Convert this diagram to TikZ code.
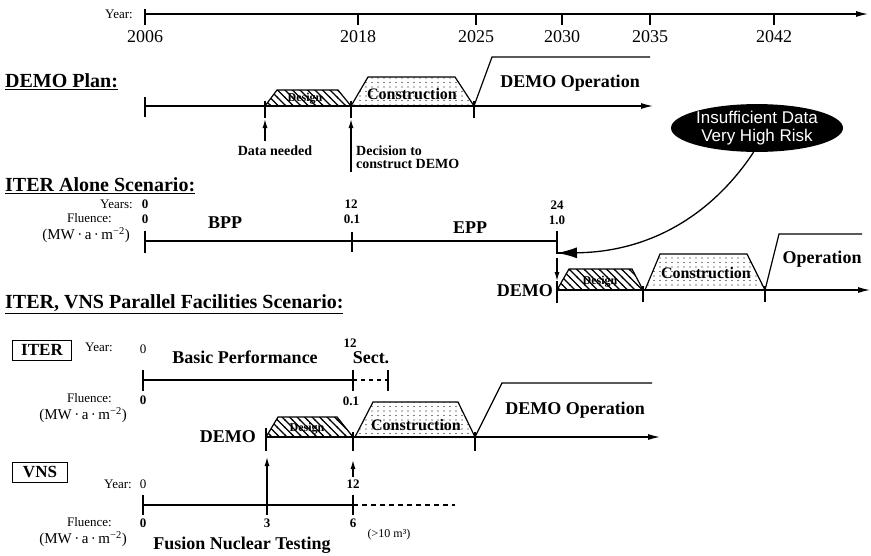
\documentclass[tikz,border=0pt]{standalone}
\usepackage{fontspec}
\setmainfont{Liberation Serif}
\newfontfamily\sansf{Liberation Sans}
\usetikzlibrary{arrows.meta,patterns,shapes.geometric}
\pgfdeclarepatternformonly{dhatch}{\pgfqpoint{-1pt}{-1pt}}{\pgfqpoint{8pt}{8pt}}{\pgfqpoint{7.5pt}{7.5pt}}{%
  \pgfsetlinewidth{1.3pt}\pgfpathmoveto{\pgfqpoint{-1pt}{8.5pt}}\pgfpathlineto{\pgfqpoint{8.5pt}{-1pt}}\pgfusepath{stroke}}
\pgfdeclarepatternformonly{sdots}{\pgfqpoint{-1pt}{-1pt}}{\pgfqpoint{1pt}{1pt}}{\pgfqpoint{6pt}{4.5pt}}{%
  \pgfpathcircle{\pgfqpoint{0pt}{0pt}}{0.55pt}\pgfusepath{fill}}
\tikzset{
  ln/.style={line width=1.2pt},
  arr/.style={line width=1.2pt,-{Latex[length=12pt,width=6pt]}},
  uparr/.style={line width=1.2pt,-{Latex[length=9pt,width=5pt]}},
  heading/.style={anchor=west,font=\fontsize{20}{22}\selectfont\bfseries},
  big/.style={font=\fontsize{18}{20}\selectfont\bfseries},
  mid/.style={font=\fontsize{16}{18}\selectfont\bfseries},
  sml/.style={font=\fontsize{14}{15}\selectfont\bfseries},
  dsg/.style={font=\fontsize{12}{14}\selectfont\bfseries},
  lbl/.style={font=\fontsize{13}{15}\selectfont},
  num/.style={font=\fontsize{13}{15}\selectfont\bfseries},
  yr/.style={font=\fontsize{18}{20}\selectfont},
  unit/.style={font=\fontsize{15}{17}\selectfont},
  boxlbl/.style={draw,line width=0.9pt,minimum height=20pt,inner xsep=4pt,inner ysep=1pt,font=\fontsize{17}{19}\selectfont\bfseries},
  dsh/.style={line width=1.2pt,dash pattern=on 5pt off 4pt},
  inner sep=0pt
}
\begin{document}
\begin{tikzpicture}[x=1pt,y=-1pt]
\useasboundingbox (0,0) rectangle (871,555);

% ---------- top year axis ----------
\node[lbl,anchor=east] (yearT) at (133,14) {Year:};
\coordinate (ax0) at (145,14);
\coordinate (ax1) at (868,14);
\draw[arr] (ax0) -- (ax1);
\draw[ln] (145,9) -- (145,25);
\foreach \x/\y in {358/2018,476/2025,562/2030,650/2035,774/2042}{
  \draw[ln] (\x,14) -- (\x,25);
  \node[yr] (y\y) at (\x,37) {\y};
}
\node[yr] (y2006) at (145,37) {2006};

% ---------- DEMO Plan ----------
\node[heading] (hdemo) at (5,82) {\underline{DEMO Plan:}};
\draw[ln,pattern=dhatch] (265,106) -- (277,90) -- (338,90) -- (351,106);
\node[dsg] (dsg1) at (305,99) {Design};
\draw[ln,pattern=sdots] (351,106) -- (368,77) -- (455,77) -- (474,106);
\node[mid] (con1) at (412,94) {Construction};
\draw[ln] (474,106) -- (492,57) -- (650,57);
\node[big] (op1) at (570,83) {DEMO Operation};
\coordinate (p0) at (145,106);
\coordinate (p1) at (653,106);
\draw[arr] (p0) -- (p1);
\draw[ln] (145,97) -- (145,117);
\foreach \x in {265,351,474}{\draw[ln] (\x,101) -- (\x,118);}
\coordinate (dn0) at (265,141);
\coordinate (dn1) at (265,119);
\draw[uparr] (dn0) -- (dn1);
\node[sml] (dneed) at (275,151) {Data needed};
\coordinate (dc0) at (351,172);
\coordinate (dc1) at (351,119);
\draw[uparr] (dc0) -- (dc1);
\node[sml,anchor=north west,align=left] (dcs) at (356,146) {Decision to\\[-2pt]construct DEMO};

% ---------- ITER Alone ----------
\node[heading] (halone) at (5,186) {\underline{ITER Alone Scenario:}};
\node[lbl,anchor=east] (yrsA) at (133,204) {Years:};
\node[lbl,anchor=east] (flA) at (112,218) {Fluence:};
\node[unit,anchor=east] (muA) at (130,235) {(MW\,·\,a\,·\,m\textsuperscript{−2})};
\node[num] (a0) at (145,204) {0};
\node[num] (a12) at (351,204) {12};
\node[num] (a24) at (557,205) {24};
\node[num] (f0) at (145,219) {0};
\node[num] (f01) at (352,219) {0.1};
\node[num] (f10) at (557,220) {1.0};
\coordinate (l0) at (145,241);
\coordinate (l1) at (557,241);
\draw[ln] (l0) -- (l1);
\draw[ln] (145,231) -- (145,253);
\draw[ln] (352,232) -- (352,252);
\coordinate (c24) at (557,253);
\draw[ln] (557,231) -- (c24) -- (561,253);
\node[big] (bpp) at (225,223) {BPP};
\node[big] (epp) at (470,228) {EPP};

% risk ellipse and curved arrow
\node[ellipse,fill=black,text=white,minimum width=157pt,minimum height=47pt,inner sep=0pt,align=center,
      font=\sansf\fontsize{17}{18}\selectfont] (risk) at (757,128) {Insufficient Data\\Very High Risk};
\draw[line width=1.3pt,-{Latex[length=20pt,width=11pt]}] (risk.-98) .. controls (712,215) and (650,252) .. (c24);

% DEMO after ITER alone
\coordinate (d0) at (557,258);
\coordinate (d1) at (557,281);
\draw[uparr] (d0) -- (d1);
\node[big,anchor=east] (demoA) at (553,291) {DEMO};
\draw[ln,pattern=dhatch] (557,290) -- (569,269) -- (632,269) -- (643,290);
\node[dsg] (dsg2) at (600,282) {Design};
\draw[ln,pattern=sdots] (645,290) -- (660,254) -- (747,254) -- (765,290);
\node[mid] (con2) at (706,273) {Construction};
\draw[ln] (765,290) -- (779,234) -- (862,234);
\node[big] (op2) at (822,259) {Operation};
\coordinate (q0) at (557,290);
\coordinate (q1) at (870,290);
\draw[arr] (q0) -- (q1);
\draw[ln] (557,281) -- (557,303);
\foreach \x in {643,765}{\draw[ln] (\x,286) -- (\x,302);}

% ---------- ITER, VNS Parallel ----------
\node[heading] (hpar) at (5,304) {\underline{ITER, VNS Parallel Facilities Scenario:}};
\node[boxlbl,minimum width=59pt] (iterbox) at (42,350) {ITER};
\node[lbl,anchor=east] (yrI) at (113,347) {Year:};
\node[lbl] (i0) at (143,349) {0};
\node[big] (bperf) at (245,357) {Basic Performance};
\node[num] (i12) at (350,343) {12};
\node[big] (sect) at (371,358) {Sect.};
\coordinate (r0) at (143,380);
\coordinate (r1) at (353,380);
\coordinate (r2) at (388,380);
\draw[ln] (r0) -- (r1);
\draw[ln,dash pattern=on 4pt off 4pt] (r1) -- (r2);
\foreach \x in {143,353,388}{\draw[ln] (\x,370) -- (\x,391);}
\node[lbl,anchor=east] (flI) at (112,398) {Fluence:};
\node[num] (if0) at (143,400) {0};
\node[num] (if01) at (351,401) {0.1};
\node[unit,anchor=east] (muI) at (127,415) {(MW\,·\,a\,·\,m\textsuperscript{−2})};

% DEMO parallel
\node[big,anchor=east] (demoP) at (256,437) {DEMO};
\draw[ln,pattern=dhatch] (266,437) -- (278,417) -- (337,417) -- (353,437);
\node[dsg] (dsg3) at (307,429) {Design};
\draw[ln,pattern=sdots] (355,437) -- (373,402) -- (458,402) -- (475,437);
\node[mid] (con3) at (416,425) {Construction};
\draw[ln] (475,437) -- (502,383) -- (652,383);
\node[big] (op3) at (575,410) {DEMO Operation};
\coordinate (s0) at (266,437);
\coordinate (s1) at (660,437);
\draw[arr] (s0) -- (s1);
\draw[ln] (266,428) -- (266,451);
\foreach \x in {353,475}{\draw[ln] (\x,432) -- (\x,451);}

% VNS
\node[boxlbl,minimum width=55pt] (vnsbox) at (40,472) {VNS};
\node[lbl,anchor=east] (yrV) at (132,484) {Year:};
\node[lbl] (v0) at (143,484) {0};
\node[num] (v12) at (353,484) {12};
\coordinate (t0) at (143,505);
\coordinate (t3) at (267,505);
\coordinate (t6) at (353,505);
\coordinate (t7) at (455,505);
\draw[ln] (t0) -- (t6);
\draw[dsh] (t6) -- (t7);
\foreach \x in {143,267,353}{\draw[ln] (\x,495) -- (\x,515);}
\coordinate (u3) at (267,457);
\coordinate (u6a) at (353,477);
\coordinate (u6) at (353,460);
\draw[uparr] (t3) -- (u3);
\draw[uparr] (u6a) -- (u6);
\node[lbl,anchor=east] (flV) at (112,522) {Fluence:};
\node[num] (vf0) at (143,523) {0};
\node[num] (vf3) at (267,523) {3};
\node[num] (vf6) at (353,523) {6};
\node[unit,anchor=east] (muV) at (127,539) {(MW\,·\,a\,·\,m\textsuperscript{−2})};
\node[big] (fnt) at (242,545) {Fusion Nuclear Testing};
\node[font=\fontsize{12}{14}\selectfont] (vol) at (389,535) {(>10 m³)};
\end{tikzpicture}
\end{document}
